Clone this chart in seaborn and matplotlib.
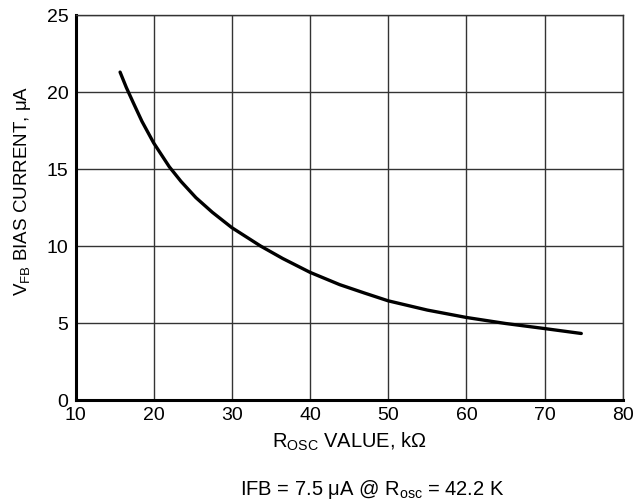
import numpy as np
import pandas as pd
import seaborn as sns
import matplotlib
matplotlib.use("Agg")
import matplotlib.pyplot as plt

# values
r_osc = [15.7, 16.5, 17.4, 18.5, 20.0, 22.0, 23.5, 25.4, 27.5, 30.0, 33.7, 36.5,
         40.0, 43.8, 47.0, 50.0, 55.0, 60.0, 65.0, 70.0, 74.7]
i_bias = [21.3, 20.3, 19.3, 18.1, 16.7, 15.15, 14.2, 13.15, 12.2, 11.2, 10.0, 9.2,
          8.3, 7.5, 6.95, 6.45, 5.85, 5.37, 4.98, 4.65, 4.33]
x_ticks = [10, 20, 30, 40, 50, 60, 70, 80]
y_ticks = [0, 5, 10, 15, 20, 25]

df = pd.DataFrame({"r": r_osc, "i": i_bias})

sns.set_theme(style="white")
plt.rcParams["font.family"] = ["Liberation Sans", "DejaVu Sans"]
plt.rcParams["mathtext.fontset"] = "custom"
plt.rcParams["mathtext.rm"] = "Liberation Sans"
plt.rcParams["mathtext.it"] = "Liberation Sans"
plt.rcParams["mathtext.default"] = "rm"

fig = plt.figure(figsize=(6.4, 5.04), dpi=100)
ax = fig.add_axes([0.118, 0.206, 0.855, 0.764])

sns.lineplot(data=df, x="r", y="i", color="black", linewidth=2.4, ax=ax, sort=False)

ax.set_xlim(10, 80)
ax.set_ylim(0, 25)
ax.set_xticks(x_ticks)
ax.set_yticks(y_ticks)
ax.grid(True, color="#333333", linewidth=1.0)
ax.tick_params(axis="both", length=0, labelsize=14, colors="black", pad=5)

for side in ["top", "right"]:
    ax.spines[side].set_linewidth(1.0)
    ax.spines[side].set_color("#333333")
for side in ["left", "bottom"]:
    ax.spines[side].set_linewidth(2.2)
    ax.spines[side].set_color("black")

ax.set_xlabel(r"R$_{\mathrm{OSC}}$ VALUE, kΩ", fontsize=14.5, color="black")
ax.set_ylabel(r"V$_{\mathrm{FB}}$ BIAS CURRENT, μA", fontsize=13.5, color="black")
ax.xaxis.set_label_coords(0.5, -0.08)
ax.yaxis.set_label_coords(-0.078, 0.545)

fig.text(0.581, 0.018, r"IFB = 7.5 μA @ R$_{\mathrm{osc}}$ = 42.2 K",
         ha="center", va="baseline", fontsize=14.5, color="black")

fig.savefig("out.png", dpi=100)
